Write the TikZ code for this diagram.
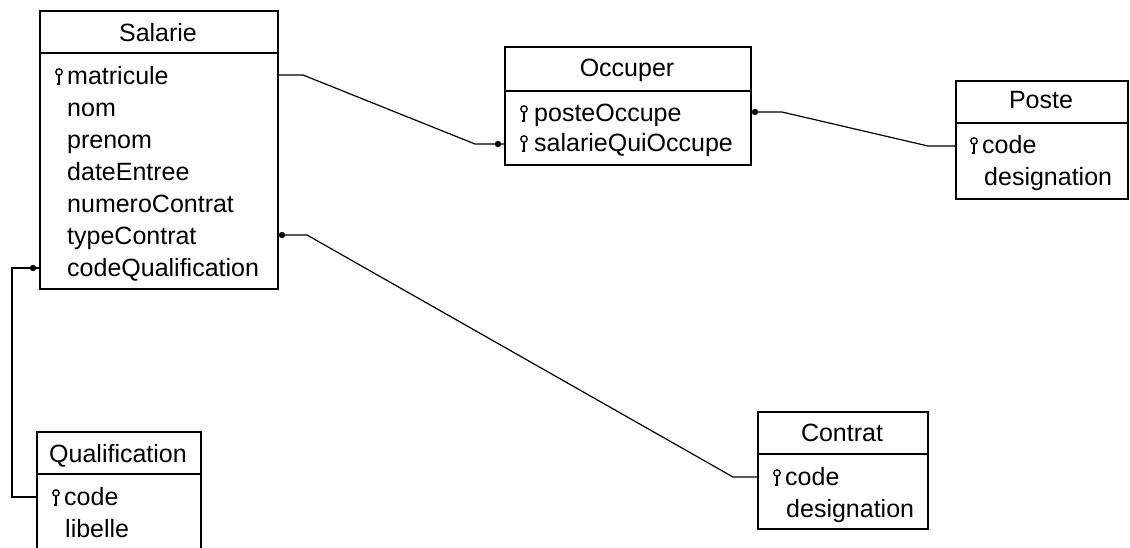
\documentclass[tikz,border=0pt]{standalone}
\usepackage{fontspec}
\setmainfont{Liberation Sans}
\begin{document}
\begin{tikzpicture}[x=1pt,y=-1pt,
  box/.style={draw, line width=1.5pt, anchor=north west, inner sep=0pt},
  sepline/.style={line width=1.5pt},
  conn/.style={line width=1.2pt},
  ttl/.style={anchor=base, inner sep=0pt, font=\fontsize{25}{30}\selectfont},
  attr/.style={anchor=base west, inner sep=0pt, font=\fontsize{25}{30}\selectfont},
  keyicon/.pic={
    \draw[line width=1.3pt] (4,-12) circle (3.2pt);
    \draw[line width=1.3pt] (4,-8.8) -- (4,0) -- (1.6,0);
  }]
\useasboundingbox (0,0) rectangle (1130,547);
\clip (0,0) rectangle (1130,547);

% ---------- Salarie ----------
\node[box, minimum width=238pt, minimum height=278pt] (salarie) at (39,10) {};
\draw[sepline] (salarie.west |- 0,53) -- (salarie.east |- 0,53);
\node[ttl] (salarieT) at (158,41) {Salarie};
\pic at (55,84) {keyicon};
\node[attr] (sa1) at (67,84) {matricule};
\node[attr] (sa2) at (67,116) {nom};
\node[attr] (sa3) at (67,148) {prenom};
\node[attr] (sa4) at (67,180) {dateEntree};
\node[attr] (sa5) at (67,212) {numeroContrat};
\node[attr] (sa6) at (67,244) {typeContrat};
\node[attr] (sa7) at (67,276) {codeQualification};

% ---------- Occuper ----------
\node[box, minimum width=246pt, minimum height=118pt] (occuper) at (504,46) {};
\draw[sepline] (occuper.west |- 0,91) -- (occuper.east |- 0,91);
\node[ttl] (occuperT) at (627,76) {Occuper};
\pic at (520,121) {keyicon};
\node[attr] (oc1) at (534,121) {posteOccupe};
\pic at (520,151) {keyicon};
\node[attr] (oc2) at (534,151) {salarieQuiOccupe};

% ---------- Poste ----------
\node[box, minimum width=172pt, minimum height=118pt] (poste) at (955,80) {};
\draw[sepline] (poste.west |- 0,123) -- (poste.east |- 0,123);
\node[ttl] (posteT) at (1041,108) {Poste};
\pic at (970,153) {keyicon};
\node[attr] (po1) at (982,153) {code};
\node[attr] (po2) at (984,185) {designation};

% ---------- Contrat ----------
\node[box, minimum width=170pt, minimum height=117pt] (contrat) at (757,411) {};
\draw[sepline] (contrat.west |- 0,454) -- (contrat.east |- 0,454);
\node[ttl] (contratT) at (842,441) {Contrat};
\pic at (773,485) {keyicon};
\node[attr] (co1) at (785,485) {code};
\node[attr] (co2) at (786,517) {designation};

% ---------- Qualification ----------
\node[box, minimum width=164pt, minimum height=140pt] (qualif) at (36,431) {};
\draw[sepline] (qualif.west |- 0,474) -- (qualif.east |- 0,474);
\node[ttl] (qualifT) at (118,462) {Qualification};
\pic at (52,505) {keyicon};
\node[attr] (qu1) at (64,505) {code};
\node[attr] (qu2) at (65,537) {libelle};

% ---------- connectors ----------
\draw[conn] (salarie.east |- 0,75) -- (303,75) -- (475,144) -- (occuper.west |- 0,144);
\fill (498,144) circle (3.2pt);

\draw[conn] (occuper.east |- 0,112) -- (782,112) -- (928,146) -- (poste.west |- 0,146);
\fill (755,112) circle (3.2pt);

\draw[conn] (salarie.east |- 0,235) -- (307,235) -- (733,477) -- (contrat.west |- 0,477);
\fill (282,235) circle (3.2pt);

\draw[conn] (salarie.west |- 0,268) -- (12,268) -- (12,497) -- (qualif.west |- 0,497);
\fill (33,268) circle (3.2pt);
\end{tikzpicture}
\end{document}
